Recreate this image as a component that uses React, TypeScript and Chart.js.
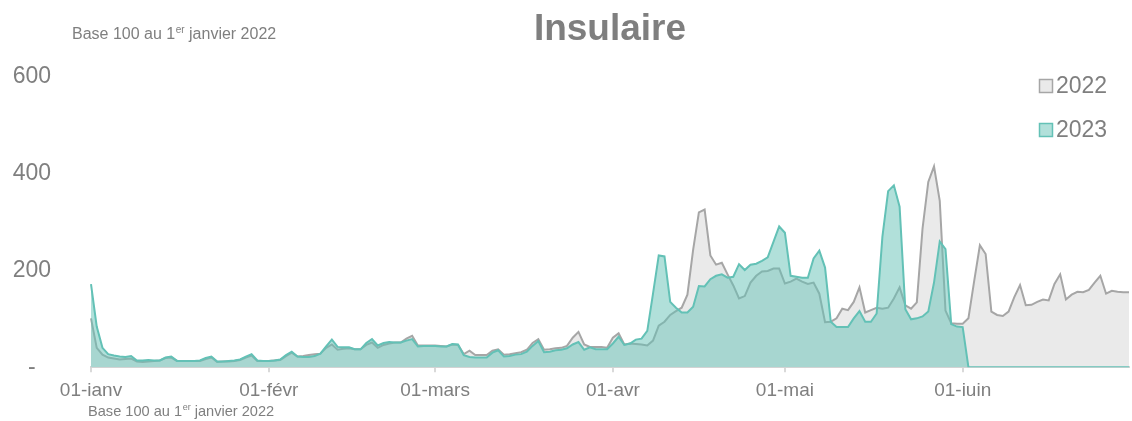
import React, { useEffect, useRef } from 'react';
import { Chart, registerables } from 'chart.js';

Chart.register(...registerables);

const titleText = 'Insulaire';
const captionMain = 'Base 100 au 1';
const captionSup = 'er';
const captionEnd = ' janvier 2022';
const seriesNames = ['2022', '2023'];

const monthNames = ['01-ianv', '01-févr', '01-mars', '01-avr', '01-mai', '01-iuin'];
const monthDays = [31, 29, 31, 30, 31, 30];
const yTicks = [0, 200, 400, 600];

const series2022 = [
  101, 40, 26, 20, 18, 16, 17, 18, 12, 11, 12, 13, 14, 19, 20, 13, 13, 13, 13, 13,
  17, 20, 11, 12, 12, 13, 15, 20, 24, 13, 13, 13, 14, 15, 23, 30, 22, 23, 25, 27,
  28, 40, 47, 36, 38, 39,
  37, 37, 46, 51, 40, 46, 49, 51, 51, 59, 65, 45, 45, 45, 45, 44, 43, 47, 46, 27,
  34, 25, 25, 25, 34, 37, 26, 27, 29, 31, 36, 50, 58, 36, 37, 39, 40, 44, 61, 73,
  47, 42, 42, 42, 40,
  61, 70, 47, 49, 48, 47, 45, 55, 86, 94, 108, 116, 123, 150, 243, 320, 326, 231, 212, 216,
  192, 169, 142, 147, 175, 189, 198, 199, 204, 204, 173, 177, 183, 177, 172, 175, 152, 93, 94, 101,
  121, 118, 135, 165, 113,
  118, 123, 121, 123, 142, 165, 128, 121, 134, 287, 383, 415, 344, 117, 91, 90, 90, 101, 178, 252,
  234, 115, 108, 106, 115, 145, 170, 128, 129, 135, 140, 138, 172, 192, 140, 150, 156, 155, 160, 175,
  189, 152, 158, 156, 155, 155,
];

const series2023 = [
  172, 84, 40, 27, 24, 22, 21, 23, 14, 14, 15, 14, 14, 20, 22, 13, 13, 13, 13, 14,
  19, 22, 12, 12, 13, 14, 16, 22, 27, 14, 13, 13, 14, 16, 25, 32, 22, 21, 21, 23,
  28, 43, 57, 42, 41, 41,
  37, 37, 50, 58, 45, 50, 52, 51, 51, 55, 58, 43, 44, 44, 44, 43, 43, 48, 47, 25,
  21, 20, 20, 20, 30, 35, 22, 23, 26, 27, 32, 44, 54, 31, 32, 35, 36, 39, 47, 52,
  36, 41, 37, 37, 37,
  49, 63, 46, 49, 57, 59, 75, 152, 231, 229, 135, 123, 113, 113, 125, 168, 167, 182, 189, 192,
  185, 187, 213, 201, 212, 214, 220, 227, 259, 291, 278, 189, 187, 185, 185, 225, 241, 206, 94, 83,
  83, 83, 101, 116, 94,
  94, 111, 270, 364, 376, 332, 120, 99, 101, 105, 115, 175, 260, 244, 89, 84, 83,
  0, 0, 0, 0, 0, 0, 0, 0, 0, 0, 0, 0, 0, 0, 0, 0, 0, 0, 0, 0,
  0, 0, 0, 0, 0, 0, 0, 0, 0,
];

const dayLabels: string[] = [];
monthDays.forEach((len, m) => {
  for (let d = 1; d <= len; d++) {
    dayLabels.push(d === 1 ? monthNames[m] : `${String(d).padStart(2, '0')}/${m + 1}`);
  }
});

const FONT = '"Liberation Sans", Arial, sans-serif';
const TEXT = '#7f7f7f';
const GRAY_LINE = '#a6a6a6';
const GRAY_FILL = '#eaeaea';
const TEAL_LINE = '#63c1b6';
const TEAL_FILL = 'rgba(99,193,182,0.5)';

function drawCaption(ctx: CanvasRenderingContext2D, x: number, y: number, size: number) {
  ctx.textAlign = 'left';
  ctx.textBaseline = 'alphabetic';
  ctx.font = `${size}px ${FONT}`;
  ctx.fillText(captionMain, x, y);
  let cx = x + ctx.measureText(captionMain).width;
  ctx.font = `${Math.round(size * 0.62)}px ${FONT}`;
  ctx.fillText(captionSup, cx + 0.5, y - size * 0.38);
  cx += ctx.measureText(captionSup).width + 0.5;
  ctx.font = `${size}px ${FONT}`;
  ctx.fillText(captionEnd, cx, y);
}

const decor = {
  id: 'decor',
  afterDraw(chart: any) {
    const ctx: CanvasRenderingContext2D = chart.ctx;
    const ca = chart.chartArea;
    ctx.save();
    ctx.fillStyle = TEXT;
    ctx.font = `bold 37px ${FONT}`;
    ctx.textAlign = 'center';
    ctx.textBaseline = 'alphabetic';
    ctx.fillText(titleText, (ca.left + ca.right) / 2, 40);

    drawCaption(ctx, 72, 39, 16);
    drawCaption(ctx, 88, 416, 14.6);

    const items = [
      { name: seriesNames[0], fill: GRAY_FILL, line: GRAY_LINE, y: 79 },
      { name: seriesNames[1], fill: 'rgb(177,224,218)', line: TEAL_LINE, y: 123 },
    ];
    items.forEach((it) => {
      ctx.fillStyle = it.fill;
      ctx.fillRect(1039.5, it.y + 0.5, 13, 13);
      ctx.strokeStyle = it.line;
      ctx.lineWidth = 1.5;
      ctx.strokeRect(1039.5, it.y + 0.5, 13, 13);
      ctx.fillStyle = TEXT;
      ctx.font = `23px ${FONT}`;
      ctx.textAlign = 'left';
      ctx.textBaseline = 'middle';
      ctx.fillText(it.name, 1056, it.y + 8);
    });
    ctx.restore();
  },
};

export default function App() {
  const ref = useRef<HTMLCanvasElement | null>(null);

  useEffect(() => {
    if (!ref.current) return;
    const chart = new Chart(ref.current, {
      type: 'line',
      data: {
        labels: dayLabels,
        datasets: [
          {
            label: seriesNames[0],
            data: series2022,
            borderColor: GRAY_LINE,
            backgroundColor: GRAY_FILL,
            borderWidth: 2,
            fill: 'origin',
            pointRadius: 0,
            tension: 0,
            order: 2,
          },
          {
            label: seriesNames[1],
            data: series2023,
            borderColor: TEAL_LINE,
            backgroundColor: TEAL_FILL,
            borderWidth: 2,
            fill: 'origin',
            pointRadius: 0,
            tension: 0,
            order: 1,
          },
        ],
      },
      options: {
        responsive: false,
        animation: false,
        devicePixelRatio: 1,
        layout: { padding: { left: 0, right: 3, top: 77, bottom: 0 } },
        plugins: {
          legend: { display: false },
          tooltip: { enabled: false },
          title: { display: false },
        },
        scales: {
          x: {
            type: 'category',
            offset: false,
            grid: {
              display: true,
              drawOnChartArea: false,
              drawTicks: true,
              tickLength: 5,
              color: '#d9d9d9',
              lineWidth: 2,
            },
            border: { display: true, color: '#d4d4d4', width: 2 },
            ticks: {
              autoSkip: false,
              maxRotation: 0,
              minRotation: 0,
              padding: 7,
              color: TEXT,
              font: { family: FONT, size: 19 },
              callback: function (this: any, value: any) {
                const lbl = this.getLabelForValue(value);
                return monthNames.includes(lbl) ? lbl : null;
              },
            },
            afterFit: (scale: any) => {
              scale.height = 47;
            },
          },
          y: {
            min: 0,
            max: 600,
            afterBuildTicks: (scale: any) => {
              scale.ticks = yTicks.map((v) => ({ value: v }));
            },
            grid: { display: false, drawTicks: false },
            border: { display: false },
            ticks: {
              padding: 40,
              crossAlign: 'center',
              color: TEXT,
              font: { family: FONT, size: 23 },
              callback: (v: any) => (Number(v) === 0 ? '-' : String(v)),
            },
            afterFit: (scale: any) => {
              scale.width = 91;
            },
          },
        },
      },
      plugins: [decor],
    });
    return () => chart.destroy();
  }, []);

  return (
    <div style={{ position: 'fixed', left: 0, top: 0, width: 1132, height: 421 }}>
      <canvas ref={ref} width={1132} height={421} style={{ width: 1132, height: 421, display: 'block' }} />
    </div>
  );
}
